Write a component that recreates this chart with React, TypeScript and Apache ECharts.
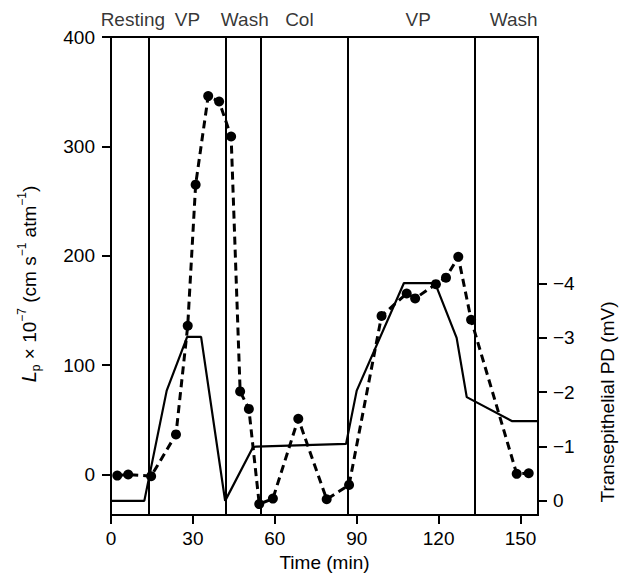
import React, { useEffect, useRef } from "react";
import * as echarts from "echarts";

// Time (min)
const xTicks = [0, 30, 60, 90, 120, 150];
const lpTicks = [0, 100, 200, 300, 400];
const pdTicks = [0, 1, 2, 3, 4];

// Lp x 10^-7 (cm s^-1 atm^-1), dashed with dots: [time, Lp]
const lpTimes = [2.3, 6.3, 14.7, 23.8, 28.1, 31.0, 35.6, 39.6, 44.0, 47.3, 50.5, 54.3, 59.3, 68.6, 79.0, 87.2, 99.1, 108.3, 111.4, 119.0, 122.7, 127.2, 131.9, 148.6, 153.0];
const lpValues = [-1, 0, -1.5, 36.7, 136, 265, 346, 341, 309, 76, 60, -27, -22, 51, -22.6, -9.5, 145, 165.5, 161, 174, 180, 199, 141.5, 0.6, 1.2];

// Transepithelial PD (mV, lumen negative), solid line
const pdTimes = [0, 12.2, 20.4, 27.9, 33.0, 41.8, 51.9, 53.1, 86.1, 90.0, 107.3, 118.7, 126.6, 130.3, 146.8, 156.4];
const pdValues = [0, 0, 2.03, 3.02, 3.02, 0, 0.98, 1.0, 1.05, 2.03, 4.01, 4.01, 3.0, 1.91, 1.47, 1.47];

// Experimental phases
const phaseBoundaries = [14, 42, 54.7, 86.6, 133.1];
const phaseNames = ["Resting", "VP", "Wash", "Col", "VP", "Wash"];
const phaseLabelTimes = [8, 28, 49, 69, 112.5, 147.5];

const FONT = "'Liberation Sans', Arial, Helvetica, sans-serif";

export default function App() {
  const ref = useRef<HTMLDivElement>(null);
  useEffect(() => {
    if (!ref.current) return;
    const chart = echarts.init(ref.current, undefined, { renderer: "svg" });
    const lpData = lpTimes.map((t, i) => [t, lpValues[i]]);
    const pdData = pdTimes.map((t, i) => [t, pdValues[i]]);
    const phaseData = phaseLabelTimes.map((t, i) => ({ value: [t, 400], name: phaseNames[i] }));

    chart.setOption({
      animation: false,
      backgroundColor: "#fff",
      textStyle: { fontFamily: FONT, color: "#000" },
      grid: {
        left: 111,
        top: 37,
        right: 83,
        bottom: 56,
        show: true,
        borderColor: "#000",
        borderWidth: 2,
        backgroundColor: "transparent",
      },
      xAxis: {
        type: "value",
        min: 0,
        max: 156.4,
        name: "Time (min)",
        nameLocation: "middle",
        nameGap: 38,
        nameTextStyle: { fontSize: 19, color: "#000", fontFamily: FONT },
        axisLine: { show: true, onZero: false, lineStyle: { color: "#000", width: 2 } },
        axisTick: { show: true, length: 9, lineStyle: { color: "#000", width: 2 }, customValues: xTicks },
        axisLabel: { fontSize: 19, color: "#000", margin: 14, fontFamily: FONT, customValues: xTicks },
        splitLine: { show: false },
      },
      yAxis: [
        {
          type: "value",
          min: -37,
          max: 400,
          position: "left",
          axisLine: { show: true, onZero: false, lineStyle: { color: "#000", width: 2 } },
          axisTick: { show: true, length: 9, lineStyle: { color: "#000", width: 2 }, customValues: lpTicks },
          axisLabel: { fontSize: 19, color: "#000", margin: 16, fontFamily: FONT, customValues: lpTicks },
          splitLine: { show: false },
        },
        {
          type: "value",
          min: -0.26,
          max: 8.54,
          position: "right",
          axisLine: { show: true, onZero: false, lineStyle: { color: "#000", width: 2 } },
          axisTick: { show: true, length: 9, lineStyle: { color: "#000", width: 2 }, customValues: pdTicks },
          axisLabel: {
            fontSize: 19,
            color: "#000",
            margin: 15,
            fontFamily: FONT,
            customValues: pdTicks,
            formatter: (v: number) => (v === 0 ? "0" : "\u2212" + v),
          },
          splitLine: { show: false },
        },
      ],
      graphic: [
        {
          type: "text",
          x: 29,
          y: 284,
          rotation: Math.PI / 2,
          style: {
            text: "{i|L}{sub|p}{n| \u00d7 10}{sup|\u22127}{n| (cm s}{sup|\u22121}{n| atm}{sup|\u22121}{n|)}",
            align: "center",
            verticalAlign: "middle",
            fill: "#000",
            rich: {
              i: { fontSize: 20, fontStyle: "italic", fontFamily: FONT, lineHeight: 26, verticalAlign: "middle" },
              sub: { fontSize: 12, fontFamily: FONT, verticalAlign: "bottom", lineHeight: 26 },
              n: { fontSize: 19, fontFamily: FONT, lineHeight: 26, verticalAlign: "middle" },
              sup: { fontSize: 12, fontFamily: FONT, verticalAlign: "top", lineHeight: 26 },
            },
          },
        },
        {
          type: "text",
          x: 607,
          y: 402,
          rotation: Math.PI / 2,
          style: {
            text: "Transepithelial PD (mV)",
            align: "center",
            verticalAlign: "middle",
            fill: "#000",
            fontSize: 19,
            fontFamily: FONT,
          },
        },
      ],
      series: [
        {
          type: "line",
          yAxisIndex: 1,
          data: pdData,
          showSymbol: false,
          symbol: "none",
          lineStyle: { color: "#000", width: 2.2 },
          z: 3,
          markLine: {
            silent: true,
            symbol: "none",
            label: { show: false },
            lineStyle: { color: "#000", width: 2, type: "solid" },
            data: phaseBoundaries.map((t) => ({ xAxis: t })),
          },
        },
        {
          type: "line",
          yAxisIndex: 0,
          data: lpData,
          symbol: "circle",
          symbolSize: 10,
          itemStyle: { color: "#000" },
          lineStyle: { color: "#000", width: 3, type: [8, 5] },
          z: 4,
        },
        {
          type: "scatter",
          yAxisIndex: 0,
          data: phaseData,
          symbolSize: 0,
          clip: false,
          silent: true,
          label: {
            show: true,
            position: "top",
            distance: 8,
            formatter: (p: any) => p.name,
            fontSize: 19,
            color: "#000",
            fontFamily: FONT,
          },
        },
      ],
    });
    return () => chart.dispose();
  }, []);
  return (
    <div
      ref={ref}
      style={{ position: "fixed", left: 0, top: 0, width: 621, height: 577 }}
    />
  );
}
